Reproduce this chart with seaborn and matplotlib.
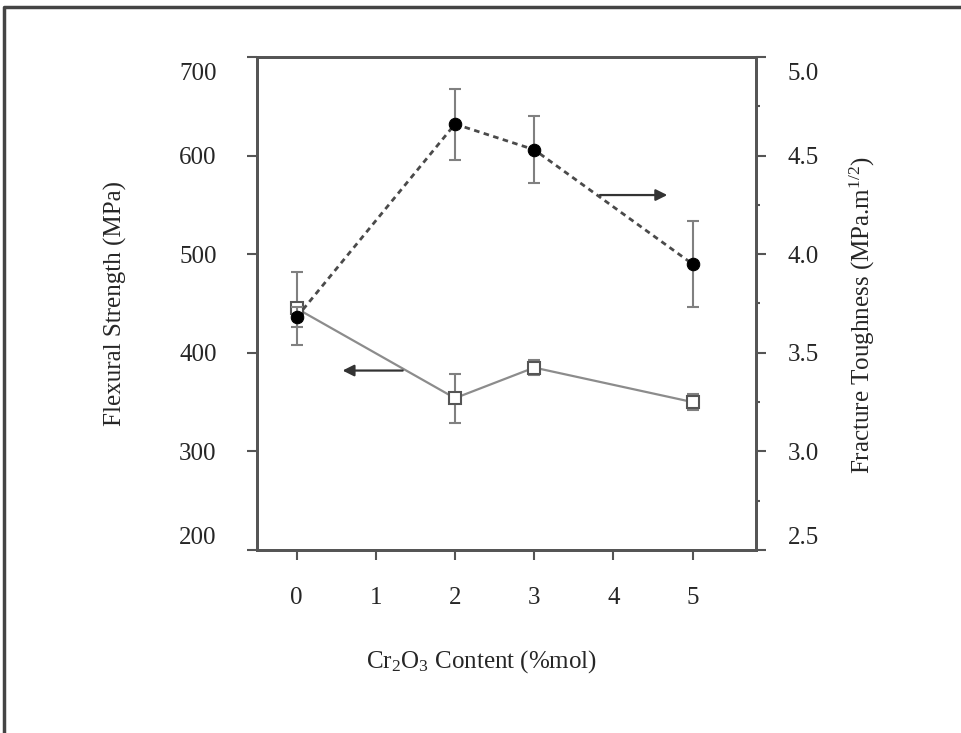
import seaborn as sns
import matplotlib.pyplot as plt
import matplotlib.transforms as mtransforms
from matplotlib.lines import Line2D
from matplotlib.ticker import MultipleLocator

# Cr2O3 content (%mol) and measured properties
cr_content = [0, 2, 3, 5]
strength = [445, 354, 385, 350]          # flexural strength, MPa
strength_err = [37, 25, 8, 8]
toughness = [3.68, 4.66, 4.53, 3.95]     # fracture toughness, MPa.m^1/2
toughness_err = [0.05, 0.18, 0.17, 0.22]

strength_ticks = [200, 300, 400, 500, 600, 700]
toughness_ticks = [2.5, 3.0, 3.5, 4.0, 4.5, 5.0]
x_ticks = [0, 1, 2, 3, 4, 5]

sns.set_style("ticks")
plt.rcParams['font.family'] = ['Liberation Serif', 'DejaVu Serif']
plt.rcParams['mathtext.fontset'] = 'custom'
plt.rcParams['mathtext.rm'] = 'Liberation Serif'
plt.rcParams['mathtext.it'] = 'Liberation Serif:italic'

spine_col = '#555555'
fs = 18

fig = plt.figure(figsize=(9.62, 7.33), dpi=100)
ax = fig.add_axes([257 / 962, 1 - 550 / 733, 499 / 962, 493 / 733])
ax2 = ax.twinx()

# flexural strength: open squares, solid grey line
ax.errorbar(cr_content, strength, yerr=strength_err, fmt='none',
            ecolor='#808080', elinewidth=1.5, capsize=4, capthick=1.5, zorder=2)
sns.lineplot(x=cr_content, y=strength, ax=ax, color='#8c8c8c', lw=1.6,
             marker='s', markersize=8, markerfacecolor='white',
             markeredgecolor='#555555', markeredgewidth=1.5, zorder=3)

# fracture toughness: filled circles, dashed line
ax2.errorbar(cr_content, toughness, yerr=toughness_err, fmt='none',
             ecolor='#808080', elinewidth=1.5, capsize=4, capthick=1.5, zorder=2)
sns.lineplot(x=cr_content, y=toughness, ax=ax2, color='#4a4a4a', lw=2,
             linestyle=(0, (2, 1.6)), marker='o', markersize=9,
             markerfacecolor='black', markeredgecolor='black', zorder=3)

# arrows showing which axis each curve belongs to
ax.annotate('', xy=(0.58, 382), xytext=(1.34, 382),
            arrowprops=dict(arrowstyle='-|>', color='#333333', lw=1.6,
                            mutation_scale=17, shrinkA=0, shrinkB=0))
ax2.annotate('', xy=(4.68, 4.30), xytext=(3.83, 4.30),
             arrowprops=dict(arrowstyle='-|>', color='#333333', lw=1.6,
                             mutation_scale=17, shrinkA=0, shrinkB=0))

ax.set_xlim(-0.5, 5.8)
ax.set_ylim(200, 700)
ax2.set_ylim(2.5, 5.0)
ax.set_xticks(x_ticks)
ax.set_yticks(strength_ticks)
ax2.set_yticks(toughness_ticks)
ax2.set_yticklabels([f'{v:.1f}' for v in toughness_ticks])
ax2.yaxis.set_minor_locator(MultipleLocator(0.25))

for a in (ax, ax2):
    for s in a.spines.values():
        s.set_visible(True)
        s.set_color(spine_col)
        s.set_linewidth(2)
ax.tick_params(axis='x', direction='out', length=7, width=1.5, color=spine_col,
               pad=20, labelsize=fs)
ax.tick_params(axis='y', direction='out', length=7, width=1.5, color=spine_col,
               pad=22, labelsize=fs)
ax2.tick_params(axis='y', which='major', direction='out', length=7, width=1.5,
                color=spine_col, pad=16, labelsize=fs)
ax2.tick_params(axis='y', which='minor', direction='out', length=3, width=1.5,
                color=spine_col)

# end labels sit inside the axis span, as in the original
down = mtransforms.ScaledTranslation(0, -15 / 100, fig.dpi_scale_trans)
up = mtransforms.ScaledTranslation(0, 14 / 100, fig.dpi_scale_trans)
for labels in (ax.get_yticklabels(), ax2.get_yticklabels()):
    labels[-1].set_transform(labels[-1].get_transform() + down)
    labels[0].set_transform(labels[0].get_transform() + up)

ax.set_xlabel(r'Cr$_2$O$_3$ Content (%mol)', fontsize=fs)
ax.xaxis.set_label_coords(0.451, -0.2)
ax.set_ylabel('Flexural Strength (MPa)', fontsize=fs)
ax.yaxis.set_label_coords(-0.26, 0.5)
ax2.set_ylabel(r'Fracture Toughness (MPa.m$^{1/2}$)', fontsize=fs)
ax2.yaxis.set_label_coords(1.185, 0.477)

# outer frame of the figure (only left and top edges show)
x0, y0 = 4 / 962, 1 - 7 / 733
fig.add_artist(Line2D([x0, x0, 1], [0, y0, y0], transform=fig.transFigure,
                      color='#444444', lw=2.5))

fig.savefig('out.png', dpi=100)
